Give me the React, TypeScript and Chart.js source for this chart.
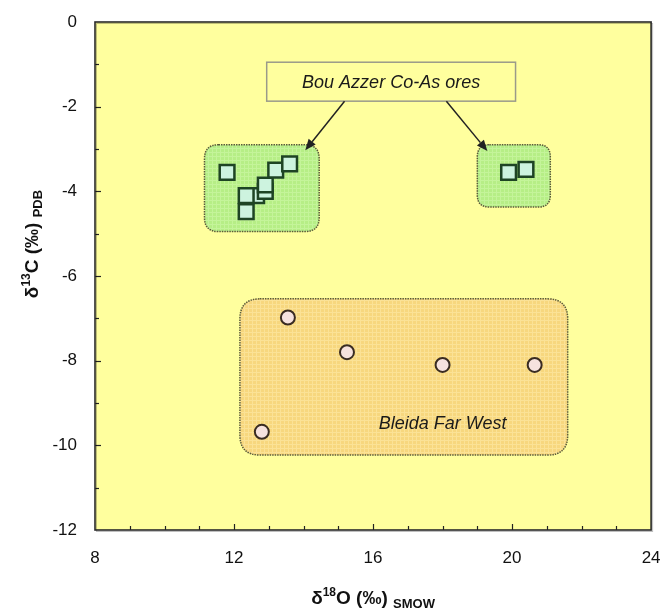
import { useEffect, useRef } from "react";
import { Chart, registerables } from "chart.js";

Chart.register(...registerables);

// Bou Azzer Co-As ores (squares)
const oreX = [11.8, 12.65, 12.35, 12.35, 12.9, 12.9, 13.2, 13.6, 19.9, 20.4];
const oreY = [-3.55, -4.1, -4.1, -4.48, -4.0, -3.85, -3.5, -3.35, -3.55, -3.48];
// Bleida Far West (circles)
const bleidaX = [13.55, 15.25, 18.0, 20.65, 12.8];
const bleidaY = [-6.98, -7.8, -8.1, -8.1, -9.68];

// axis ranges / ticks
const xRange = [8, 24];
const yRange = [-12, 0];
const xTickStep = 4;
const yTickStep = 2;
const minorStep = 1;

// field outlines in data units: [xMin, xMax, yTop, yBottom]
const oreFieldLeft = [11.15, 14.45, -2.9, -4.95];
const oreFieldRight = [19.0, 21.1, -2.9, -4.37];
const bleidaField = [12.17, 21.6, -6.54, -10.23];

// annotation label box [xMin, xMax, yTop, yBottom] and arrows [x0, y0, x1, y1]
const oreLabel = "Bou Azzer Co-As ores";
const oreLabelBox = [12.94, 20.1, -0.95, -1.87];
const oreArrows = [
  [15.18, -1.87, 14.05, -3.03],
  [18.11, -1.87, 19.29, -3.05],
];
const bleidaLabel = "Bleida Far West";
const bleidaLabelPos = [18.0, -9.5];

const FONT = "'Liberation Sans', Arial, Helvetica, sans-serif";

function makePattern(ctx: CanvasRenderingContext2D, base: string, line: string) {
  const c = document.createElement("canvas");
  c.width = 4;
  c.height = 4;
  const g = c.getContext("2d")!;
  g.fillStyle = base;
  g.fillRect(0, 0, 4, 4);
  g.fillStyle = line;
  g.fillRect(0, 0, 4, 1);
  g.fillRect(0, 0, 1, 4);
  return ctx.createPattern(c, "repeat")!;
}

function roundRect(ctx: CanvasRenderingContext2D, x: number, y: number, w: number, h: number, r: number) {
  ctx.beginPath();
  ctx.moveTo(x + r, y);
  ctx.lineTo(x + w - r, y);
  ctx.quadraticCurveTo(x + w, y, x + w, y + r);
  ctx.lineTo(x + w, y + h - r);
  ctx.quadraticCurveTo(x + w, y + h, x + w - r, y + h);
  ctx.lineTo(x + r, y + h);
  ctx.quadraticCurveTo(x, y + h, x, y + h - r);
  ctx.lineTo(x, y + r);
  ctx.quadraticCurveTo(x, y, x + r, y);
  ctx.closePath();
}

type Seg = { t: string; size: number; dy: number; bold?: boolean };

function drawRich(ctx: CanvasRenderingContext2D, segs: Seg[], cx: number, cy: number, rot: number) {
  ctx.save();
  ctx.translate(cx, cy);
  ctx.rotate(rot);
  let total = 0;
  const widths: number[] = [];
  for (const s of segs) {
    ctx.font = `${s.bold ? "bold " : ""}${s.size}px ${FONT}`;
    const w = ctx.measureText(s.t).width;
    widths.push(w);
    total += w;
  }
  let x = -total / 2;
  ctx.textBaseline = "alphabetic";
  ctx.textAlign = "left";
  ctx.fillStyle = "#111";
  segs.forEach((s, i) => {
    ctx.font = `${s.bold ? "bold " : ""}${s.size}px ${FONT}`;
    ctx.fillText(s.t, x, s.dy);
    x += widths[i];
  });
  ctx.restore();
}

const decorPlugin = {
  id: "decor",
  beforeDatasetsDraw(chart: any) {
    const { ctx, chartArea: a, scales } = chart;
    const xs = scales.x;
    const ys = scales.y;
    ctx.save();
    ctx.fillStyle = "#FFFF9E";
    ctx.fillRect(a.left, a.top, a.right - a.left, a.bottom - a.top);

    const field = (f: number[], base: string, line: string, r: number) => {
      const x0 = xs.getPixelForValue(f[0]);
      const x1 = xs.getPixelForValue(f[1]);
      const y0 = ys.getPixelForValue(f[2]);
      const y1 = ys.getPixelForValue(f[3]);
      roundRect(ctx, x0, y0, x1 - x0, y1 - y0, r);
      ctx.fillStyle = makePattern(ctx, base, line);
      ctx.fill();
      ctx.setLineDash([1.5, 1]);
      ctx.lineWidth = 1.5;
      ctx.strokeStyle = "#5a5a3a";
      ctx.stroke();
      ctx.setLineDash([]);
    };
    field(oreFieldLeft, "#B6EE86", "#C4F49A", 14);
    field(oreFieldRight, "#B6EE86", "#C4F49A", 12);
    field(bleidaField, "#F7D77E", "#FBE296", 20);
    ctx.restore();
  },
  afterDatasetsDraw(chart: any) {
    const { ctx, chartArea: a, scales } = chart;
    const xs = scales.x;
    const ys = scales.y;
    ctx.save();

    // minor/major tick marks pointing inward
    ctx.strokeStyle = "#222";
    ctx.lineWidth = 1.2;
    for (let v = xRange[0] + minorStep; v < xRange[1]; v += minorStep) {
      const px = Math.round(xs.getPixelForValue(v)) + 0.5;
      const len = v % xTickStep === 0 ? 6 : 4;
      ctx.beginPath();
      ctx.moveTo(px, a.bottom);
      ctx.lineTo(px, a.bottom - len);
      ctx.stroke();
    }
    for (let v = yRange[0] + minorStep; v < yRange[1]; v += minorStep) {
      const py = Math.round(ys.getPixelForValue(v)) + 0.5;
      const len = v % yTickStep === 0 ? 6 : 4;
      ctx.beginPath();
      ctx.moveTo(a.left, py);
      ctx.lineTo(a.left + len, py);
      ctx.stroke();
    }

    // plot frame with a soft shadow
    ctx.strokeStyle = "rgba(0,0,0,0.25)";
    ctx.lineWidth = 1;
    ctx.strokeRect(a.left + 1.5, a.top + 1.5, a.right - a.left, a.bottom - a.top);
    ctx.strokeStyle = "#2a2a2a";
    ctx.lineWidth = 1.6;
    ctx.strokeRect(a.left, a.top, a.right - a.left, a.bottom - a.top);

    // label box
    const bx0 = xs.getPixelForValue(oreLabelBox[0]);
    const bx1 = xs.getPixelForValue(oreLabelBox[1]);
    const by0 = ys.getPixelForValue(oreLabelBox[2]);
    const by1 = ys.getPixelForValue(oreLabelBox[3]);
    ctx.fillStyle = "#FFFF9E";
    ctx.fillRect(bx0, by0, bx1 - bx0, by1 - by0);
    ctx.strokeStyle = "#9a9a8a";
    ctx.lineWidth = 1.5;
    ctx.strokeRect(bx0, by0, bx1 - bx0, by1 - by0);
    ctx.font = `italic 18px ${FONT}`;
    ctx.fillStyle = "#1a1a1a";
    ctx.textAlign = "center";
    ctx.textBaseline = "middle";
    ctx.fillText(oreLabel, (bx0 + bx1) / 2, (by0 + by1) / 2 + 1);

    // arrows
    ctx.strokeStyle = "#222";
    ctx.fillStyle = "#222";
    ctx.lineWidth = 1.5;
    for (const ar of oreArrows) {
      const x0 = xs.getPixelForValue(ar[0]);
      const y0 = ys.getPixelForValue(ar[1]);
      const x1 = xs.getPixelForValue(ar[2]);
      const y1 = ys.getPixelForValue(ar[3]);
      const ang = Math.atan2(y1 - y0, x1 - x0);
      const hl = 11;
      const hw = 4.5;
      const bx = x1 - hl * Math.cos(ang);
      const by = y1 - hl * Math.sin(ang);
      ctx.beginPath();
      ctx.moveTo(x0, y0);
      ctx.lineTo(bx, by);
      ctx.stroke();
      ctx.beginPath();
      ctx.moveTo(x1, y1);
      ctx.lineTo(bx + hw * Math.sin(ang), by - hw * Math.cos(ang));
      ctx.lineTo(bx - hw * Math.sin(ang), by + hw * Math.cos(ang));
      ctx.closePath();
      ctx.fill();
    }

    // Bleida label
    ctx.font = `italic 18px ${FONT}`;
    ctx.fillStyle = "#1a1a1a";
    ctx.textAlign = "center";
    ctx.textBaseline = "middle";
    ctx.fillText(bleidaLabel, xs.getPixelForValue(bleidaLabelPos[0]), ys.getPixelForValue(bleidaLabelPos[1]));

    // axis titles with super/subscripts
    drawRich(
      ctx,
      [
        { t: "δ", size: 19, dy: 0, bold: true },
        { t: "18", size: 12, dy: -8, bold: true },
        { t: "O (‰) ", size: 19, dy: 0, bold: true },
        { t: "SMOW", size: 13, dy: 4, bold: true },
      ],
      (a.left + a.right) / 2,
      604,
      0
    );
    drawRich(
      ctx,
      [
        { t: "δ", size: 19, dy: 0, bold: true },
        { t: "13", size: 12, dy: -8, bold: true },
        { t: "C (‰) ", size: 19, dy: 0, bold: true },
        { t: "PDB", size: 13, dy: 4, bold: true },
      ],
      38,
      244,
      -Math.PI / 2
    );
    ctx.restore();
  },
};

export default function App() {
  const ref = useRef<HTMLCanvasElement | null>(null);
  useEffect(() => {
    document.body.style.margin = "0";
    const canvas = ref.current!;
    const chart = new Chart(canvas, {
      type: "scatter",
      data: {
        datasets: [
          {
            label: "Bou Azzer Co-As ores",
            data: oreX.map((x, i) => ({ x, y: oreY[i] })),
            pointStyle: "rect",
            pointRadius: 10.4,
            backgroundColor: "#CDF3DF",
            borderColor: "#1E4424",
            borderWidth: 2.5,
          },
          {
            label: "Bleida Far West",
            data: bleidaX.map((x, i) => ({ x, y: bleidaY[i] })),
            pointStyle: "circle",
            pointRadius: 7,
            backgroundColor: "#F6E2DE",
            borderColor: "#3A2C22",
            borderWidth: 2,
          },
        ],
      },
      options: {
        responsive: false,
        animation: false,
        layout: { padding: { left: 0, right: 12, top: 22, bottom: 0 } },
        plugins: {
          legend: { display: false },
          tooltip: { enabled: false },
        },
        scales: {
          x: {
            type: "linear",
            min: xRange[0],
            max: xRange[1],
            afterFit: (s: any) => {
              s.height = 83;
              s.paddingLeft = 0;
              s.paddingRight = 0;
            },
            ticks: {
              stepSize: xTickStep,
              padding: 18,
              color: "#111",
              font: { family: FONT, size: 17 },
            },
            grid: { display: false, drawTicks: false },
            border: { display: false },
          },
          y: {
            type: "linear",
            min: yRange[0],
            max: yRange[1],
            afterFit: (s: any) => {
              s.width = 95;
              s.paddingTop = 0;
              s.paddingBottom = 0;
            },
            ticks: {
              stepSize: yTickStep,
              padding: 18,
              color: "#111",
              font: { family: FONT, size: 17 },
            },
            grid: { display: false, drawTicks: false },
            border: { display: false },
          },
        },
      },
      plugins: [decorPlugin],
    });
    return () => chart.destroy();
  }, []);
  return <canvas ref={ref} width={664} height={613} style={{ display: "block" }} />;
}
